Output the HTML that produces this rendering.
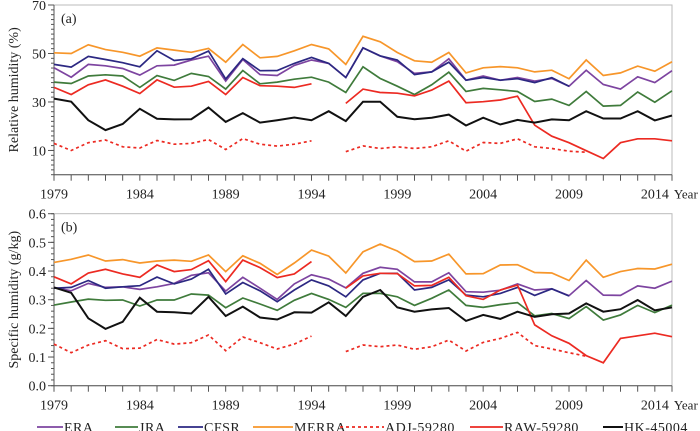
<!DOCTYPE html>
<html><head><meta charset="utf-8">
<style>
body{margin:0;background:#fff;}
svg{display:block;font-family:"Liberation Serif",serif;}
</style></head>
<body>
<svg id="chart" width="700" height="431" viewBox="0 0 700 431"></svg>
<script>
const years=[];for(let y=1979;y<=2015;y++)years.push(y);
const rhERA=[44.1,40.2,45.5,44.9,43.8,41.1,44.9,45.2,47.3,48.9,38.6,47.5,41.3,40.9,45.1,47.3,45.9,40.1,52.3,49.0,46.6,41.8,42.4,47.8,39.0,40.7,39.0,40.1,38.6,39.7,36.5,43.1,37.2,35.3,40.4,38.0,42.9];
const rhJRA=[38.2,37.6,40.7,41.2,40.7,36.0,40.9,38.9,41.8,40.5,35.3,43.0,37.5,38.2,39.4,40.2,38.2,33.9,44.5,39.7,36.5,33.1,37.1,42.3,34.3,35.6,35.0,34.3,30.2,31.2,28.6,34.3,28.3,28.6,34.1,29.9,34.6];
const rhCFSR=[45.5,44.4,48.8,47.5,46.2,44.5,51.1,47.1,47.8,51.0,39.5,47.9,42.9,43.0,45.9,48.4,45.9,40.1,52.3,49.0,47.3,41.3,42.4,46.4,39.0,40.1,39.0,39.6,38.0,40.0,36.5,null,null,null,null,null,null];
const rhMERRA=[50.3,50.0,53.6,51.6,50.5,48.9,52.3,51.4,50.5,52.1,46.4,53.7,48.2,48.8,51.1,53.7,51.9,45.5,57.1,54.8,50.4,47.0,46.4,50.4,42.0,44.1,44.6,44.1,42.4,43.1,39.6,47.3,40.9,42.0,44.8,42.7,46.6];
const rhADJ=[12.9,10.0,13.2,14.3,11.5,11.0,14.1,12.6,12.9,14.5,10.4,14.9,12.6,11.8,12.6,14.0,null,9.5,11.9,10.8,11.5,10.8,11.5,14.0,9.7,13.3,12.9,14.8,11.5,10.8,9.7,9.3,null,null,null,null,null];
const rhRAW=[36.0,33.1,37.1,39.1,36.5,33.5,39.1,36.1,36.5,38.5,33.1,40.1,36.7,36.5,36.0,37.5,null,29.4,35.3,33.9,33.6,32.5,34.9,38.6,29.7,30.1,30.8,32.4,20.4,15.9,13.2,9.9,6.7,13.2,14.8,14.8,14.0];
const rhHK=[31.4,30.1,22.5,18.4,20.9,27.2,23.1,22.8,22.9,27.7,21.8,25.4,21.5,22.5,23.6,22.5,26.2,22.1,30.1,30.1,23.9,22.9,23.5,24.8,20.3,23.5,20.7,22.6,21.5,22.8,22.5,26.2,23.2,23.2,26.2,22.4,24.4];
const qERA=[.343,.331,.357,.343,.345,.336,.345,.357,.385,.394,.330,.378,.340,.301,.355,.387,.372,.341,.392,.413,.406,.362,.362,.394,.328,.326,.333,.355,.334,.338,.314,.367,.316,.315,.348,.340,.365];
const qJRA=[.281,.292,.302,.298,.299,.278,.299,.299,.320,.316,.272,.306,.285,.263,.298,.322,.301,.273,.322,.322,.310,.280,.305,.334,.280,.273,.283,.290,.244,.252,.234,.276,.229,.247,.280,.255,.281];
const qCFSR=[.340,.343,.367,.340,.345,.349,.379,.355,.372,.406,.320,.360,.331,.293,.334,.369,.348,.310,.369,.392,.392,.334,.343,.369,.316,.310,.322,.343,.315,.338,.313,null,null,null,null,null,null];
const qMERRA=[.430,.441,.456,.435,.440,.428,.435,.438,.434,.456,.398,.453,.427,.388,.428,.473,.452,.393,.467,.494,.470,.433,.435,.459,.390,.391,.421,.422,.395,.393,.367,.438,.378,.398,.409,.407,.424];
const qADJ=[.145,.115,.142,.157,.129,.131,.161,.145,.150,.177,.122,.170,.150,.128,.145,.173,null,.119,.142,.136,.142,.127,.136,.159,.121,.151,.165,.186,.140,.128,.115,.103,null,null,null,null,null];
const qRAW=[.380,.355,.393,.406,.390,.378,.421,.398,.405,.436,.363,.438,.412,.377,.390,.433,null,.340,.383,.392,.391,.348,.350,.378,.314,.301,.334,.351,.212,.174,.148,.105,.080,.165,.174,.183,.171];
const qHK=[.343,.324,.235,.198,.223,.307,.258,.256,.252,.310,.243,.276,.238,.231,.256,.255,.291,.243,.310,.334,.273,.258,.266,.271,.226,.247,.233,.258,.240,.249,.252,.287,.258,.267,.299,.263,.273];
const yearLabels=[1979,1984,1989,1994,1999,2004,2009,2014];
const rhTicks=[10,30,50,70];
const qTicks=[0.0,0.1,0.2,0.3,0.4,0.5,0.6];

const NS="http://www.w3.org/2000/svg";
const svg=document.getElementById('chart');
function mk(tag,attrs,parent){const e=document.createElementNS(NS,tag);for(const k in attrs)e.setAttribute(k,attrs[k]);(parent||svg).appendChild(e);return e;}
const X0=54,X1=672;
function xs(y){return X0+(y-1979)*(X1-X0)/36;}
const colors={ERA:'#7d44a0',JRA:'#3f7b3b',CFSR:'#2c2882',MERRA:'#f7962a',ADJ:'#ec2a22',RAW:'#ec2a22',HK:'#111'};

function panel(name,top,bottom,vmin,vmax,ticks,minorStep,fmt,series,title,tag){
  const g=mk('g',{});
  
  
  const ys=v=>bottom-(v-vmin)*(bottom-top)/(vmax-vmin);
  const frame=mk('rect',{x:X0,y:top,width:X1-X0,height:bottom-top,fill:'none',stroke:'#bbb','stroke-width':1},g);
  
  
  const ax=mk('g',{stroke:'#555','stroke-width':1},g);
  
  
  mk('line',{x1:X0,y1:top,x2:X0,y2:bottom},ax);
  mk('line',{x1:X0,y1:bottom,x2:X1,y2:bottom},ax);
  for(let v=vmin;v<=vmax+1e-9;v+=minorStep){const y=ys(v);mk('line',{x1:X0-3,y1:y,x2:X0,y2:y},ax);}
  ticks.forEach(t=>{const y=ys(t);mk('line',{x1:X0-6,y1:y,x2:X0,y2:y},ax);
    const tx=mk('text',{x:X0-8,y:y+5,'text-anchor':'end','font-size':14,fill:'#222'},g);tx.textContent=fmt(t);
    
    });
  years.forEach(yr=>{const x=xs(yr);mk('line',{x1:x,y1:bottom,x2:x,y2:bottom+6},ax);});
  yearLabels.forEach(yr=>{const tx=mk('text',{x:xs(yr),y:bottom+24,'text-anchor':'middle','font-size':14,fill:'#222'},g);tx.textContent=yr;
    
    });
  const yl=mk('text',{x:xs(2014)+19,y:bottom+24,'font-size':13,fill:'#222'},g);yl.textContent='Year';
  
  
  const cy=(top+bottom)/2;
  const tt=mk('text',{x:18,y:cy,'text-anchor':'middle','font-size':14,fill:'#222',transform:`rotate(-90 18 ${cy})`},g);tt.textContent=title;
  
  
  const pl=mk('text',{x:X0+7,y:top+18,'font-size':14,fill:'#222'},g);pl.textContent=tag;
  
  
  series.forEach(([key,vals,dash])=>{
    let d='',pen=false;
    vals.forEach((v,i)=>{if(v===null){pen=false;return;}d+=(pen?'L':'M')+xs(years[i]).toFixed(1)+','+ys(v).toFixed(1);pen=true;});
    const p=mk('path',{d:d,fill:'none',stroke:colors[key],'stroke-width':key==='HK'?2:1.7,'stroke-dasharray':dash?'3,3':'none'},g);
    
    
  });
}
panel('panel-relative-humidity',5,174.7,0,70,rhTicks,2,v=>String(v),
 [['MERRA',rhMERRA],['JRA',rhJRA],['ERA',rhERA],['CFSR',rhCFSR],['ADJ',rhADJ,true],['RAW',rhRAW],['HK',rhHK]],'Relative humidity (%)','(a)');
panel('panel-specific-humidity',213.7,385.7,0,0.6,qTicks,0.02,v=>v.toFixed(1),
 [['MERRA',qMERRA],['JRA',qJRA],['ERA',qERA],['CFSR',qCFSR],['ADJ',qADJ,true],['RAW',qRAW],['HK',qHK]],'Specific humidity (g/kg)','(b)');

const legendItems=[['ERA','ERA',37,63],['JRA','JRA',115,138],['CFSR','CFSR',178,203],['MERRA','MERRA',253,293],['ADJ','ADJ-59280',340,384],['RAW','RAW-59280',470,503],['HK','HK-45004',603,623]];
const lg=mk('g',{});


legendItems.forEach(([k,label,x1,x2])=>{
  const it=mk('g',{},lg);
  
  
  mk('line',{x1:x1,y1:427,x2:x2,y2:427,stroke:colors[k],'stroke-width':k==='HK'?2:1.7,'stroke-dasharray':k==='ADJ'?'3,3':'none'},it);
  const t=mk('text',{x:x2+1,y:432,'font-size':14,fill:'#222','letter-spacing':'0.5'},it);t.textContent=label;
});
</script>
</body></html>
